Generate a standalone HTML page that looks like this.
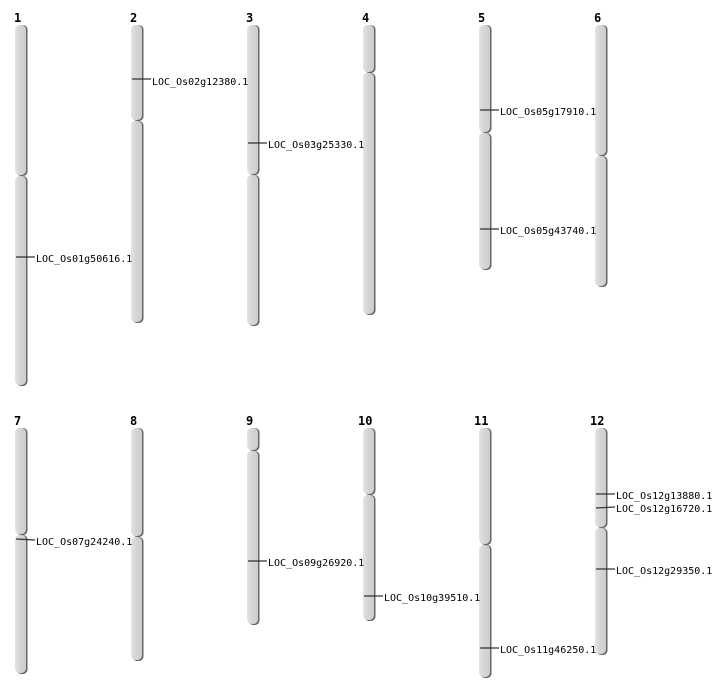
<!DOCTYPE html>
<html><head><meta charset="utf-8"><style>
html,body{margin:0;padding:0;background:#fff;}
svg{display:block;}
.n{font-family:"DejaVu Sans Mono","Liberation Mono",monospace;font-weight:bold;font-size:12px;fill:#000;}
.l{font-family:"DejaVu Sans Mono","Liberation Mono",monospace;font-size:10px;fill:#000;}
.m{stroke:#333;stroke-width:1.2;}
</style></head><body>
<svg width="712" height="700" viewBox="0 0 712 700" xmlns="http://www.w3.org/2000/svg">
<defs>
<linearGradient id="g" x1="0" x2="1" y1="0" y2="0">
<stop offset="0" stop-color="#e4e4e4"/><stop offset="0.4" stop-color="#d6d6d6"/><stop offset="1" stop-color="#cdcdcd"/>
</linearGradient>
<g id="dummy"></g>
</defs>
<g id="chroms"></g>
<!-- numbers -->
<text class="n" x="14" y="22">1</text>
<text class="n" x="130" y="22">2</text>
<text class="n" x="246" y="22">3</text>
<text class="n" x="362" y="22">4</text>
<text class="n" x="478" y="22">5</text>
<text class="n" x="594" y="22">6</text>
<text class="n" x="14" y="425">7</text>
<text class="n" x="130" y="425">8</text>
<text class="n" x="246" y="425">9</text>
<text class="n" x="358" y="425">10</text>
<text class="n" x="474" y="425">11</text>
<text class="n" x="590" y="425">12</text>

<!-- segments: shadow then fill -->
<g fill="#666">
<rect x="16.5" y="25" width="11" height="151" rx="4.5"/><rect x="16.5" y="176" width="11" height="210" rx="4.5"/>
<rect x="132.5" y="25" width="11" height="96" rx="4.5"/><rect x="132.5" y="121" width="11" height="202" rx="4.5"/>
<rect x="248.5" y="25" width="11" height="150" rx="4.5"/><rect x="248.5" y="175" width="11" height="151" rx="4.5"/>
<rect x="364.5" y="25" width="11" height="48" rx="4.5"/><rect x="364.5" y="73" width="11" height="242" rx="4.5"/>
<rect x="480.5" y="25" width="11" height="108" rx="4.5"/><rect x="480.5" y="133" width="11" height="137" rx="4.5"/>
<rect x="596.5" y="25" width="11" height="131" rx="4.5"/><rect x="596.5" y="156" width="11" height="131" rx="4.5"/>
<rect x="16.5" y="428" width="11" height="107" rx="4.5"/><rect x="16.5" y="535" width="11" height="139" rx="4.5"/>
<rect x="132.5" y="428" width="11" height="109" rx="4.5"/><rect x="132.5" y="537" width="11" height="124" rx="4.5"/>
<rect x="248.5" y="428" width="11" height="23" rx="4.5"/><rect x="248.5" y="451" width="11" height="174" rx="4.5"/>
<rect x="364.5" y="428" width="11" height="67" rx="4.5"/><rect x="364.5" y="495" width="11" height="126" rx="4.5"/>
<rect x="480.5" y="428" width="11" height="117" rx="4.5"/><rect x="480.5" y="545" width="11" height="133" rx="4.5"/>
<rect x="596.5" y="428" width="11" height="100" rx="4.5"/><rect x="596.5" y="528" width="11" height="127" rx="4.5"/>
</g>
<g fill="url(#g)">
<rect x="15" y="25" width="11" height="150" rx="4.5"/><rect x="15" y="176" width="11" height="209" rx="4.5"/>
<rect x="131" y="25" width="11" height="95" rx="4.5"/><rect x="131" y="121" width="11" height="201" rx="4.5"/>
<rect x="247" y="25" width="11" height="149" rx="4.5"/><rect x="247" y="175" width="11" height="150" rx="4.5"/>
<rect x="363" y="25" width="11" height="47" rx="4.5"/><rect x="363" y="73" width="11" height="241" rx="4.5"/>
<rect x="479" y="25" width="11" height="107" rx="4.5"/><rect x="479" y="133" width="11" height="136" rx="4.5"/>
<rect x="595" y="25" width="11" height="130" rx="4.5"/><rect x="595" y="156" width="11" height="130" rx="4.5"/>
<rect x="15" y="428" width="11" height="106" rx="4.5"/><rect x="15" y="535" width="11" height="138" rx="4.5"/>
<rect x="131" y="428" width="11" height="108" rx="4.5"/><rect x="131" y="537" width="11" height="123" rx="4.5"/>
<rect x="247" y="428" width="11" height="22" rx="4.5"/><rect x="247" y="451" width="11" height="173" rx="4.5"/>
<rect x="363" y="428" width="11" height="66" rx="4.5"/><rect x="363" y="495" width="11" height="125" rx="4.5"/>
<rect x="479" y="428" width="11" height="116" rx="4.5"/><rect x="479" y="545" width="11" height="132" rx="4.5"/>
<rect x="595" y="428" width="11" height="99" rx="4.5"/><rect x="595" y="528" width="11" height="126" rx="4.5"/>
</g>

<!-- markers -->
<line class="m" x1="16" y1="257" x2="35" y2="257"/><text class="l" x="36" y="262">LOC_Os01g50616.1</text>
<line class="m" x1="132" y1="79" x2="151" y2="79"/><text class="l" x="152" y="85">LOC_Os02g12380.1</text>
<line class="m" x1="248" y1="143" x2="267" y2="143"/><text class="l" x="268" y="148">LOC_Os03g25330.1</text>
<line class="m" x1="480" y1="110" x2="499" y2="110"/><text class="l" x="500" y="115">LOC_Os05g17910.1</text>
<line class="m" x1="480" y1="229" x2="499" y2="229"/><text class="l" x="500" y="234">LOC_Os05g43740.1</text>
<line class="m" x1="16" y1="539" x2="35" y2="540"/><text class="l" x="36" y="545">LOC_Os07g24240.1</text>
<line class="m" x1="248" y1="561" x2="267" y2="561"/><text class="l" x="268" y="566">LOC_Os09g26920.1</text>
<line class="m" x1="364" y1="596" x2="383" y2="596"/><text class="l" x="384" y="601">LOC_Os10g39510.1</text>
<line class="m" x1="480" y1="648" x2="499" y2="648"/><text class="l" x="500" y="653">LOC_Os11g46250.1</text>
<line class="m" x1="596" y1="494" x2="615" y2="494"/><text class="l" x="616" y="499">LOC_Os12g13880.1</text>
<line class="m" x1="596" y1="508" x2="615" y2="507"/><text class="l" x="616" y="512">LOC_Os12g16720.1</text>
<line class="m" x1="596" y1="569" x2="615" y2="569"/><text class="l" x="616" y="574">LOC_Os12g29350.1</text>
</svg>
</body></html>
